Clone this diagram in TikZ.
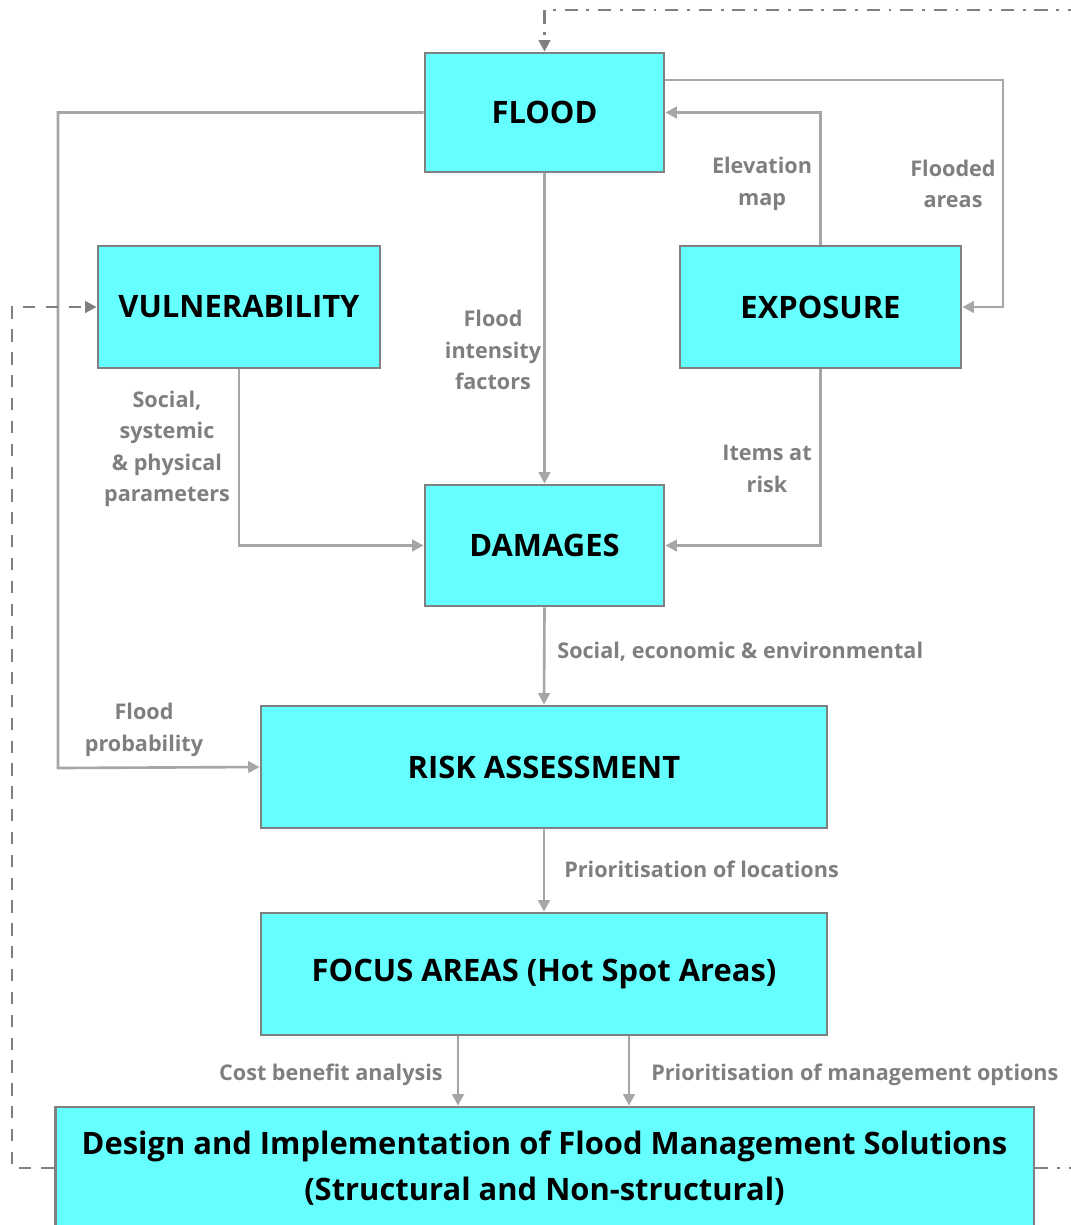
\documentclass[tikz,border=0pt]{standalone}
\usepackage{fontspec}
\setmainfont{Open Sans}
\usepackage{xcolor}
\usetikzlibrary{positioning, arrows.meta}
\definecolor{boxfill}{HTML}{66FFFF}
\definecolor{boxline}{HTML}{808080}
\definecolor{linkgray}{HTML}{A6A6A6}
\definecolor{loopgray}{HTML}{7F7F7F}
\definecolor{lblgray}{HTML}{7F7F7F}
\tikzset{
  stage/.style={draw=boxline, line width=1.6pt, fill=boxfill, align=center,
    inner sep=0pt, font=\fontsize{17.6}{26}\selectfont\bfseries},
  link/.style={draw=linkgray, line width=1.5pt, -{Triangle[length=6.5pt,width=6.5pt]}},
  feedback/.style={draw=loopgray, line width=1.5pt, -{Triangle[length=6.5pt,width=6.5pt]}},
  lbl/.style={text=lblgray, align=center, inner sep=0pt,
    font=\fontsize{12.3}{17.8}\selectfont\bfseries}
}

\begin{document}
\begin{tikzpicture}[x=0.02cm, y=-0.02cm]
  \useasboundingbox (0,0) rectangle (1071,1225);
  % boxes
  \node[stage, minimum width=4.78cm, minimum height=2.38cm] (flood) at (544.5,112.5) {FLOOD};
  \node[stage, minimum width=5.64cm, minimum height=2.44cm] (vuln) at (239,307) {VULNERABILITY};
  \node[stage, minimum width=5.62cm, minimum height=2.44cm] (expo) at (820.5,307) {EXPOSURE};
  \node[stage, minimum width=4.78cm, minimum height=2.42cm] (dam) at (544.5,545.5) {DAMAGES};
  \node[stage, minimum width=11.32cm, minimum height=2.44cm] (risk) at (544,767) {RISK ASSESSMENT};
  \node[stage, minimum width=11.32cm, minimum height=2.44cm] (focus) at (544,974) {FOCUS AREAS (Hot Spot Areas)};
  \node[stage, minimum width=19.58cm, minimum height=2.44cm] (design) at (544.5,1168)
    {Design and Implementation of Flood Management Solutions\\(Structural and Non-structural)};
  % turning points
  \coordinate (probL) at (58,768);
  \coordinate (fldR) at (1003,80);
  \coordinate (loopL) at (12,307);
  \coordinate (loopR) at (1100,10);
  \path (focus.south) ++(-86,0) coordinate (cbaTop);
  \path (focus.south) ++(85,0) coordinate (mgmtTop);
  % connectors
  \draw[link] (flood.west) -| (probL) -- (risk.west);
  \draw[link] (flood.south) -- (dam.north);
  \draw[link] (flood.east |- fldR) -- (fldR) |- (expo.east);
  \draw[link] (expo.north) |- (flood.east);
  \draw[link] (vuln.south) |- (dam.west);
  \draw[link] (expo.south) |- (dam.east);
  \draw[link] (dam.south) -- (risk.north);
  \draw[link] (risk.south) -- (focus.north);
  \draw[link] (cbaTop) -- (cbaTop |- design.north);
  \draw[link] (mgmtTop) -- (mgmtTop |- design.north);
  % feedback loops
  \draw[feedback, dash pattern=on 7pt off 6pt] (design.west) -- (design.west -| loopL) -- (loopL) -- (vuln.west);
  \draw[feedback, dash pattern=on 7.5pt off 5pt on 1.6pt off 5pt] (design.east) -- (design.east -| loopR) -- (loopR) -- (flood.north |- loopR) -- (flood.north);
  % labels
  \node[lbl] (probLbl) at (144,730) {Flood\\probability};
  \node[lbl] (intLbl) at (493,350) {Flood\\intensity\\factors};
  \node[lbl] (elevLbl) at (762,184) {Elevation\\map};
  \node[lbl] (fldLbl) at (953,184) {Flooded\\areas};
  \node[lbl] (socLbl) at (167,449) {Social,\\systemic\\\& physical\\parameters};
  \node[lbl] (itemsLbl) at (767,469) {Items at\\risk};
  \node[lbl, anchor=west] (dmgLbl) at (557,652) {Social, economic \& environmental};
  \node[lbl, anchor=west] (locLbl) at (564,869) {Prioritisation of locations};
  \node[lbl, anchor=east] (cbaLbl) at (443,1075) {Cost benefit analysis};
  \node[lbl, anchor=west] (mgmtLbl) at (651,1075) {Prioritisation of management options};
\end{tikzpicture}
\end{document}
